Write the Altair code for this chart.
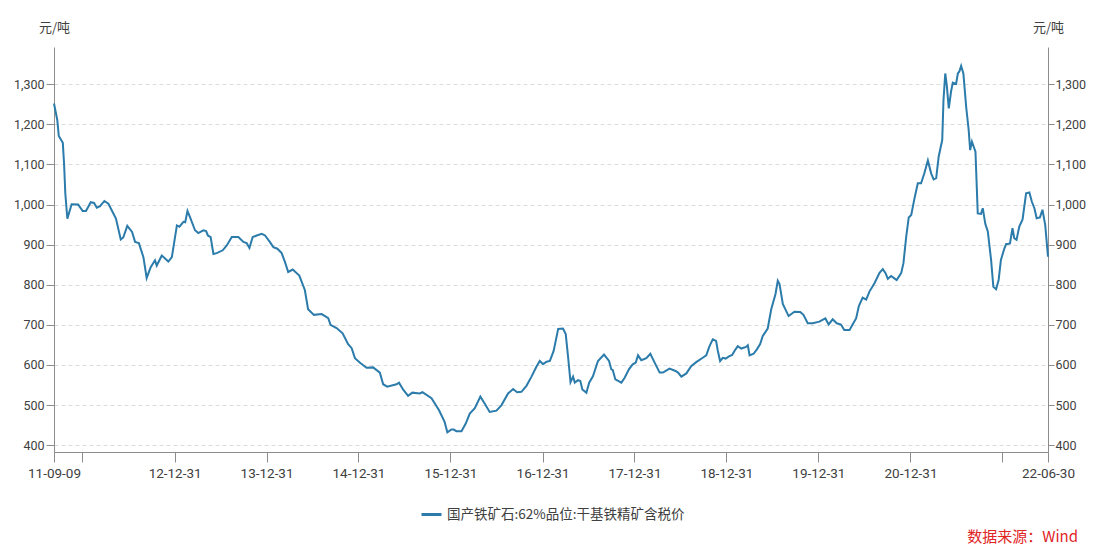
import altair as alt
import pandas as pd

# ---- data (decimal year, price in 元/吨) ----
years = [
    2011.688, 2011.724, 2011.739, 2011.783, 2011.797, 2011.811, 2011.833, 2011.880, 2011.952, 2012.000,
    2012.036, 2012.087, 2012.123, 2012.152, 2012.188, 2012.234, 2012.278, 2012.361, 2012.413, 2012.441,
    2012.484, 2012.535, 2012.568, 2012.608, 2012.658, 2012.695, 2012.738, 2012.785, 2012.804, 2012.858,
    2012.930, 2012.967, 2013.021, 2013.049, 2013.093, 2013.111, 2013.136, 2013.165, 2013.220, 2013.256,
    2013.310, 2013.339, 2013.358, 2013.390, 2013.418, 2013.455, 2013.521, 2013.564, 2013.618, 2013.690,
    2013.744, 2013.781, 2013.810, 2013.846, 2013.890, 2013.944, 2013.980, 2014.034, 2014.070, 2014.114,
    2014.161, 2014.197, 2014.233, 2014.281, 2014.353, 2014.415, 2014.450, 2014.512, 2014.596, 2014.668,
    2014.694, 2014.759, 2014.824, 2014.885, 2014.922, 2014.958, 2015.012, 2015.085, 2015.156, 2015.229,
    2015.265, 2015.309, 2015.411, 2015.439, 2015.482, 2015.537, 2015.584, 2015.664, 2015.693, 2015.791,
    2015.873, 2015.935, 2015.965, 2016.008, 2016.033, 2016.062, 2016.117, 2016.163, 2016.207, 2016.261,
    2016.323, 2016.370, 2016.424, 2016.497, 2016.551, 2016.623, 2016.677, 2016.721, 2016.768, 2016.823,
    2016.877, 2016.931, 2016.967, 2017.003, 2017.040, 2017.076, 2017.119, 2017.166, 2017.220, 2017.250,
    2017.275, 2017.301, 2017.329, 2017.347, 2017.383, 2017.409, 2017.431, 2017.474, 2017.503, 2017.546,
    2017.600, 2017.666, 2017.720, 2017.746, 2017.763, 2017.790, 2017.855, 2017.890, 2017.937, 2017.974,
    2018.010, 2018.035, 2018.072, 2018.126, 2018.170, 2018.216, 2018.271, 2018.306, 2018.379, 2018.444,
    2018.470, 2018.506, 2018.561, 2018.615, 2018.669, 2018.741, 2018.778, 2018.814, 2018.850, 2018.886,
    2018.904, 2018.930, 2018.958, 2018.988, 2019.031, 2019.060, 2019.085, 2019.121, 2019.158, 2019.212,
    2019.230, 2019.248, 2019.292, 2019.328, 2019.365, 2019.393, 2019.447, 2019.484, 2019.531, 2019.556,
    2019.574, 2019.610, 2019.675, 2019.737, 2019.799, 2019.835, 2019.882, 2019.936, 2020.009, 2020.074,
    2020.110, 2020.153, 2020.197, 2020.244, 2020.280, 2020.335, 2020.370, 2020.407, 2020.436, 2020.479,
    2020.516, 2020.552, 2020.606, 2020.660, 2020.696, 2020.726, 2020.751, 2020.788, 2020.823, 2020.848,
    2020.896, 2020.921, 2020.950, 2020.979, 2021.005, 2021.041, 2021.076, 2021.113, 2021.149, 2021.185,
    2021.222, 2021.250, 2021.276, 2021.305, 2021.342, 2021.356, 2021.374, 2021.391, 2021.413, 2021.439,
    2021.457, 2021.494, 2021.511, 2021.529, 2021.548, 2021.573, 2021.602, 2021.630, 2021.646, 2021.667,
    2021.703, 2021.728, 2021.765, 2021.783, 2021.812, 2021.837, 2021.874, 2021.899, 2021.928, 2021.956,
    2021.982, 2022.018, 2022.037, 2022.054, 2022.080, 2022.108, 2022.127, 2022.152, 2022.181, 2022.217,
    2022.254, 2022.290, 2022.319, 2022.344, 2022.369, 2022.406, 2022.434, 2022.464, 2022.493,
]

prices = [
    1252, 1211, 1171, 1154, 1102, 1027, 965, 1001, 1000, 984,
    984, 1006, 1004, 992, 996, 1009, 1002, 965, 913, 918,
    947, 932, 907, 904, 869, 817, 844, 861, 848, 873,
    858, 869, 948, 945, 957, 956, 984, 969, 936, 929,
    936, 934, 923, 919, 877, 879, 886, 898, 919, 919,
    907, 904, 892, 919, 923, 927, 923, 907, 894, 890,
    879, 857, 832, 838, 823, 787, 739, 725, 727, 717,
    700, 692, 679, 652, 642, 617, 606, 593, 594, 581,
    552, 546, 552, 556, 539, 523, 531, 529, 532, 517,
    487, 458, 432, 439, 439, 435, 435, 454, 479, 492,
    521, 504, 483, 486, 500, 529, 540, 532, 533, 548,
    571, 596, 610, 602, 608, 610, 635, 690, 691, 677,
    622, 557, 571, 556, 562, 560, 539, 531, 556, 572,
    610, 626, 610, 589, 587, 564, 556, 568, 589, 601,
    606, 624, 612, 617, 628, 606, 581, 581, 591, 585,
    581, 571, 579, 597, 607, 618, 624, 647, 664, 660,
    635, 610, 618, 616, 622, 625, 635, 647, 641, 645,
    649, 624, 628, 639, 652, 672, 691, 739, 777, 810,
    802, 752, 722, 733, 732, 725, 704, 704, 708, 716,
    701, 714, 704, 701, 687, 687, 701, 716, 747, 768,
    763, 783, 804, 830, 839, 829, 815, 822, 816, 812,
    829, 854, 920, 968, 974, 1016, 1053, 1053, 1078, 1110,
    1078, 1063, 1066, 1120, 1161, 1261, 1327, 1298, 1240, 1282,
    1304, 1301, 1327, 1332, 1346, 1327, 1244, 1186, 1136, 1157,
    1132, 978, 977, 991, 952, 933, 862, 795, 789, 812,
    862, 891, 902, 902, 903, 941, 916, 912, 945, 963,
    1028, 1030, 1007, 991, 966, 968, 987, 949, 870,
]

series_name = "国产铁矿石:62%品位:干基铁精矿含税价"
unit_label = "元/吨"
source_label = "数据来源：Wind"
y_ticks = [400, 500, 600, 700, 800, 900, 1000, 1100, 1200, 1300]
y_domain = [383, 1393]
x_tick_dates = [(2011, 9, 9), (2011, 12, 31), (2012, 12, 31), (2013, 12, 31), (2014, 12, 31),
                (2015, 12, 31), (2016, 12, 31), (2017, 12, 31), (2018, 12, 31), (2019, 12, 31),
                (2020, 12, 31), (2021, 12, 31), (2022, 6, 30)]
hidden_tick_labels = ["11-12-31", "21-12-31"]

assert len(years) == len(prices)


def to_ts(f):
    y = int(f)
    start = pd.Timestamp(year=y, month=1, day=1)
    ndays = pd.Timestamp(year=y, month=12, day=31).dayofyear
    return (start + pd.Timedelta(days=(f - y) * ndays)).round("D")


df = pd.DataFrame({
    "date": [to_ts(f) for f in years],
    "price": prices,
    "series": series_name,
})

LINE_COLOR = "#2b7bab"
AXIS_COLOR = "#8c8c8c"
LABEL_COLOR = "#404040"
FONT = "Roboto"
CJK = "Noto Sans CJK SC"

x_ticks = [alt.DateTime(year=a, month=b, date=c) for a, b, c in x_tick_dates]
hidden_expr = "[" + ",".join("'%s'" % s for s in hidden_tick_labels) + "]"

x_enc = alt.X(
    "date:T",
    scale=alt.Scale(domain=[x_ticks[0], x_ticks[-1]], nice=False),
    axis=alt.Axis(
        values=x_ticks, format="%y-%m-%d",
        labelExpr="indexof(" + hidden_expr + ", datum.label) >= 0 ? '' : datum.label",
        title=None, grid=False, tickSize=10, labelPadding=4, labelAngle=0,
        labelFlush=False, labelOverlap=False,
        domainColor=AXIS_COLOR, tickColor=AXIS_COLOR, labelColor=LABEL_COLOR,
        labelFont=FONT, labelFontSize=13.5,
    ),
)

y_scale = alt.Scale(domain=y_domain, nice=False, zero=False)

common_axis = dict(
    values=y_ticks, format=",.0f",
    domainColor=AXIS_COLOR, tickColor=AXIS_COLOR, labelColor=LABEL_COLOR,
    labelFont=FONT, labelFontSize=12.5,
    title=unit_label, titleAngle=0, titleX=0, titleY=-20, titleAlign="center",
    titleBaseline="middle", titleFont=CJK, titleFontSize=13, titleFontWeight="normal",
    titleColor=LABEL_COLOR,
)

left = alt.Chart(df).mark_line(strokeWidth=2, interpolate="linear").encode(
    x=x_enc,
    y=alt.Y("price:Q", scale=y_scale,
            axis=alt.Axis(orient="left", grid=True, gridDash=[4, 3], gridColor="#dcdcdc",
                          tickSize=8, labelPadding=2, **common_axis)),
    color=alt.Color(
        "series:N",
        scale=alt.Scale(range=[LINE_COLOR]),
        legend=alt.Legend(
            title=None, orient="none", legendX=366, legendY=456,
            symbolType="stroke", symbolStrokeWidth=3, symbolSize=400,
            labelFont=CJK, labelFontSize=13.5, labelColor=LABEL_COLOR, labelLimit=600,
        ),
    ),
)

right = alt.Chart(df).mark_line(opacity=0).encode(
    x=x_enc,
    y=alt.Y("price:Q", scale=y_scale,
            axis=alt.Axis(orient="right", grid=False, tickSize=6, labelPadding=1,
                          **common_axis)),
)

source = alt.Chart(pd.DataFrame({"t": [source_label]})).mark_text(
    align="right", baseline="middle", font=CJK, fontSize=15, color="#e0241f",
).encode(text="t:N", x=alt.value(1024), y=alt.value(490))

chart = (
    alt.layer(left, right, source)
    .resolve_scale(y="independent")
    .properties(
        width=994, height=405,
        padding={"left": 46, "top": 39, "right": 38, "bottom": 110},
        autosize=alt.AutoSizeParams(type="none"),
        background="white",
    )
    .configure_view(stroke=None)
)

chart.save("out.html", embed_options={"renderer": "svg", "actions": False})
